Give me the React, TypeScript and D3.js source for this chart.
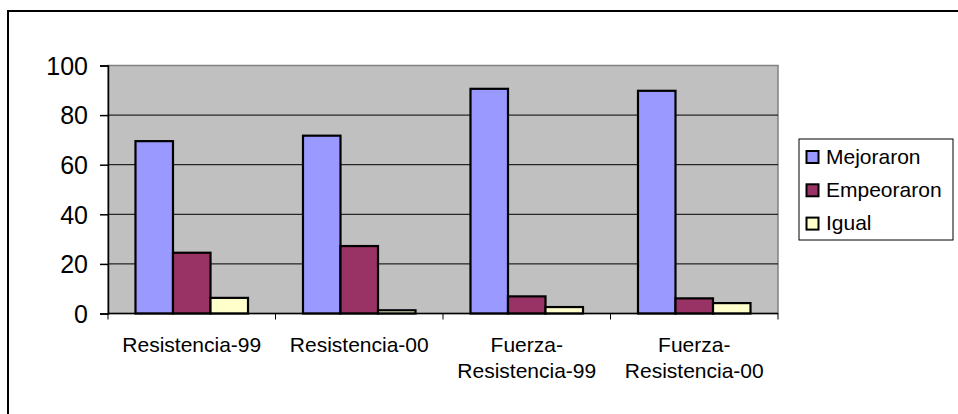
import React from 'react';
import * as d3 from 'd3';

const categories = ['Resistencia-99', 'Resistencia-00', 'Fuerza-\nResistencia-99', 'Fuerza-\nResistencia-00'];
const seriesNames = ['Mejoraron', 'Empeoraron', 'Igual'];
const mejoraron = [69.5, 71.7, 90.6, 89.8];
const empeoraron = [24.5, 27.2, 6.9, 6.1];
const igual = [6.3, 1.3, 2.6, 4.2];
const yTicks = [0, 20, 40, 60, 80, 100];
const seriesColors = ['#9999FF', '#993366', '#FFFFCC'];

const width = 958;
const height = 414;
const font = '"Liberation Sans", Arial, sans-serif';

const App: React.FC = () => {
  const svgRef = React.useRef<SVGSVGElement>(null);

  React.useEffect(() => {
    if (!svgRef.current) return;
    document.body.style.margin = '0';

    const svg = d3.select(svgRef.current);
    svg.selectAll('*').remove();

    const plot = { left: 108, right: 778, top: 65.5, bottom: 313.5 };
    const values = [mejoraron, empeoraron, igual];

    // Outer chart border (only top and left edges fall inside the picture)
    svg.append('path')
      .attr('d', `M8,${height} L8,11 L${width},11`)
      .attr('fill', 'none')
      .attr('stroke', '#000')
      .attr('stroke-width', 2);

    const x0 = d3.scaleBand<number>()
      .domain(d3.range(categories.length))
      .range([plot.left, plot.right])
      .paddingInner(0)
      .paddingOuter(0);

    const x1 = d3.scaleBand<number>()
      .domain(d3.range(seriesNames.length))
      .range([0, x0.bandwidth()])
      .paddingInner(0)
      .paddingOuter(0.733);

    const y = d3.scaleLinear()
      .domain([0, 100])
      .range([plot.bottom, plot.top]);

    const color = d3.scaleOrdinal<number, string>()
      .domain(d3.range(seriesNames.length))
      .range(seriesColors);

    // Plot background
    svg.append('rect')
      .attr('x', plot.left)
      .attr('y', plot.top)
      .attr('width', plot.right - plot.left)
      .attr('height', plot.bottom - plot.top)
      .attr('fill', '#C0C0C0')
      .attr('stroke', '#808080')
      .attr('stroke-width', 1.5);

    // Gridlines
    svg.append('g')
      .selectAll('line')
      .data(yTicks.filter(t => t > 0 && t < 100))
      .enter().append('line')
      .attr('x1', plot.left)
      .attr('x2', plot.right)
      .attr('y1', d => y(d))
      .attr('y2', d => y(d))
      .attr('stroke', '#000')
      .attr('stroke-width', 1);

    // Bars
    const group = svg.append('g')
      .selectAll('g')
      .data(categories.map((_, i) => i))
      .enter().append('g')
      .attr('transform', i => `translate(${x0(i)},0)`);

    group.selectAll('rect')
      .data(i => values.map((v, s) => ({ s, v: v[i] })))
      .enter().append('rect')
      .attr('x', d => x1(d.s) || 0)
      .attr('y', d => y(d.v))
      .attr('width', x1.bandwidth())
      .attr('height', d => y(0) - y(d.v))
      .attr('fill', d => color(d.s))
      .attr('stroke', '#000')
      .attr('stroke-width', 2.2);

    // Y axis
    const yAxis = svg.append('g')
      .attr('transform', `translate(${plot.left},0)`)
      .call(d3.axisLeft(y).tickValues(yTicks).tickSize(8).tickPadding(12));
    yAxis.select('.domain').attr('stroke', '#000').attr('stroke-width', 1.5);
    yAxis.selectAll('.tick line').attr('stroke', '#000').attr('stroke-width', 1.5);
    yAxis.selectAll('.tick text')
      .attr('font-family', font)
      .attr('font-size', 25)
      .attr('fill', '#000')
      .attr('dy', '0.35em');

    // X axis
    const xAxis = svg.append('g')
      .attr('transform', `translate(0,${plot.bottom})`);
    xAxis.append('line')
      .attr('x1', plot.left)
      .attr('x2', plot.right)
      .attr('stroke', '#000')
      .attr('stroke-width', 1.5);
    xAxis.selectAll('.xtick')
      .data(d3.range(categories.length + 1))
      .enter().append('line')
      .attr('x1', i => plot.left + i * x0.step())
      .attr('x2', i => plot.left + i * x0.step())
      .attr('y1', 0)
      .attr('y2', 6)
      .attr('stroke', '#000')
      .attr('stroke-width', 1);

    const labels = xAxis.selectAll('text')
      .data(categories.map((c, i) => ({ c, i })))
      .enter().append('text')
      .attr('x', d => (x0(d.i) || 0) + x0.bandwidth() / 2)
      .attr('y', 38)
      .attr('text-anchor', 'middle')
      .attr('font-family', font)
      .attr('font-size', 21)
      .attr('fill', '#000');
    labels.selectAll('tspan')
      .data(d => d.c.split('\n').map((line, k) => ({ line, k, x: (x0(d.i) || 0) + x0.bandwidth() / 2 })))
      .enter().append('tspan')
      .attr('x', d => d.x)
      .attr('dy', d => (d.k === 0 ? 0 : 26.7))
      .text(d => d.line);

    // Legend
    const legend = svg.append('g').attr('transform', 'translate(799,139)');
    legend.append('rect')
      .attr('width', 154)
      .attr('height', 101)
      .attr('fill', '#fff')
      .attr('stroke', '#000')
      .attr('stroke-width', 1);
    const item = legend.selectAll('g')
      .data(seriesNames.map((n, i) => ({ n, i })))
      .enter().append('g')
      .attr('transform', d => `translate(0,${18 + d.i * 33.3})`);
    item.append('rect')
      .attr('x', 7.5)
      .attr('y', -6)
      .attr('width', 12)
      .attr('height', 12)
      .attr('fill', d => color(d.i))
      .attr('stroke', '#000')
      .attr('stroke-width', 2);
    item.append('text')
      .attr('x', 27)
      .attr('y', 6.5)
      .attr('font-family', font)
      .attr('font-size', 21)
      .attr('fill', '#000')
      .text(d => d.n);
  }, []);

  return (
    <svg
      ref={svgRef}
      width={width}
      height={height}
      viewBox={`0 0 ${width} ${height}`}
      style={{ display: 'block', background: '#fff' }}
    />
  );
};

export default App;
